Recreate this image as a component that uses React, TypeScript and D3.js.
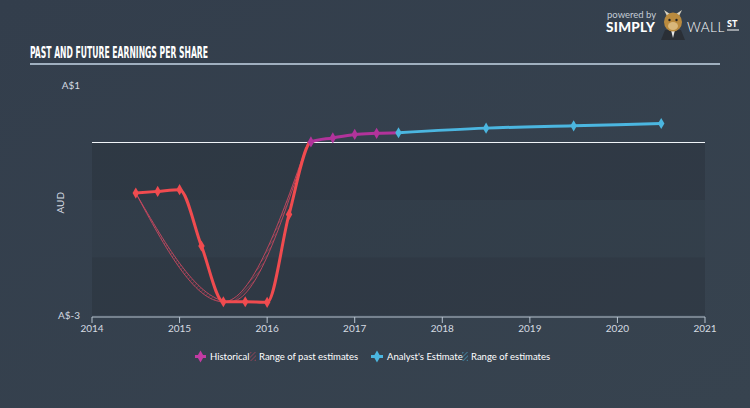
import React from "react";
import * as d3 from "d3";

const W = 750;
const H = 408;

const xTicks = [2014, 2015, 2016, 2017, 2018, 2019, 2020, 2021];
const yTickValues = [1, -3];
const yTickLabels = ["A$1", "A$-3"];

const histYears = [2014.5, 2014.75, 2015.0, 2015.25, 2015.5, 2015.75, 2016.0, 2016.25, 2016.5, 2016.75, 2017.0, 2017.25, 2017.5];
const histEps = [-0.88, -0.85, -0.82, -1.8, -2.77, -2.77, -2.78, -1.25, 0.01, 0.08, 0.14, 0.16, 0.17];

const estYears = [2017.5, 2018.5, 2019.5, 2020.5];
const estEps = [0.17, 0.25, 0.29, 0.33];

const pastRangeYears = [2014.5, 2015.5, 2016.47];
const pastRangeLow = [-0.88, -2.77, 0.02];
const pastRangeHighYears = [2014.5, 2015.58, 2016.47];
const pastRangeHigh = [-0.88, -2.77, 0.02];

const bands = [
  [0, -1, 0.11],
  [-1, -2, 0.04],
  [-2, -3, 0.11],
];

const RED = "#f04b4f";
const MAGENTA = "#b2339b";
const BLUE = "#4bb6e0";
const RANGE = "#c9485f";

export default function App() {
  const x = d3.scaleLinear().domain([2014, 2021]).range([92, 705]);
  const y = d3.scaleLinear().domain([-3, 1]).range([315, 85]);
  const y0 = y(0);
  const axisY = 317;

  const hist = histYears.map((t, i) => [t, histEps[i]] as [number, number]);
  const est = estYears.map((t, i) => [t, estEps[i]] as [number, number]);

  const line = d3
    .line<[number, number]>()
    .x((d) => x(d[0]))
    .y((d) => y(d[1]))
    .curve(d3.curveMonotoneX);

  const lowPts = pastRangeYears.map((t, i) => [t, pastRangeLow[i]] as [number, number]);
  const highPts = pastRangeHighYears.map((t, i) => [t, pastRangeHigh[i]] as [number, number]);
  const lowPath = line(lowPts) || "";
  const highPath = line(highPts) || "";
  const highRev = line(highPts.slice().reverse()) || "";
  const bandPath = lowPath + "L" + highRev.slice(1) + "Z";

  const diamond = d3.symbol().type(d3.symbolDiamond).size(36)() || "";
  const legDiamond = d3.symbol().type(d3.symbolDiamond).size(40)() || "";

  const font = "Lato, 'Open Sans', sans-serif";

  return (
    <svg
      width={W}
      height={H}
      style={{ position: "absolute", left: 0, top: 0, display: "block" }}
      xmlns="http://www.w3.org/2000/svg"
    >
      <defs>
        <linearGradient id="bg" x1="0" y1="0" x2="1" y2="1">
          <stop offset="0" stopColor="#333e4c" />
          <stop offset="1" stopColor="#37434f" />
        </linearGradient>
        <pattern id="hatchRed" width="3" height="3" patternUnits="userSpaceOnUse" patternTransform="rotate(45)">
          <line x1="0" y1="0" x2="0" y2="3" stroke={RANGE} strokeWidth="1" />
        </pattern>
        <pattern id="hatchBlue" width="3" height="3" patternUnits="userSpaceOnUse" patternTransform="rotate(45)">
          <line x1="0" y1="0" x2="0" y2="3" stroke={BLUE} strokeWidth="1" />
        </pattern>
        <clipPath id="clipNeg">
          <rect x={0} y={y0} width={W} height={H - y0} />
        </clipPath>
        <clipPath id="clipPos">
          <rect x={0} y={0} width={W} height={y0} />
        </clipPath>
      </defs>

      <rect x={0} y={0} width={W} height={H} fill="url(#bg)" />

      {/* logo */}
      <g>
        <text x={607} y={18} fill="#c4ccd6" fontSize={9.5} fontFamily={font}>powered by</text>
        <text x={606} y={32} fill="#ffffff" fontSize={13.5} fontWeight={900} fontFamily={font} letterSpacing={0.3}>SIMPLY</text>
        <g transform="translate(673,22)">
          <path d="M-9,-12 L-6,-6 L-3,-8 Z" fill="#d9d2c0" />
          <path d="M9,-12 L6,-6 L3,-8 Z" fill="#d9d2c0" />
          <path d="M-12,18 L-8,8 L8,8 L12,18 Z" fill="#2a2f36" />
          <path d="M-2,8 L0,16 L2,8 Z" fill="#e8e8e8" />
          <ellipse cx={0} cy={0} rx={9} ry={9.5} fill="#b98a3e" />
          <ellipse cx={0} cy={4} rx={5} ry={4} fill="#d9b77a" />
          <circle cx={-3.5} cy={-2} r={1.2} fill="#222" />
          <circle cx={3.5} cy={-2} r={1.2} fill="#222" />
        </g>
        <text x={687} y={32} fill="#ffffff" fontSize={13.5} fontWeight={300} fontFamily={font} letterSpacing={0.5}>WALL</text>
        <text x={727} y={27} fill="#ffffff" fontSize={9} fontWeight={900} fontFamily={font}>ST</text>
        <line x1={727} y1={30} x2={739} y2={30} stroke="#ffffff" strokeWidth={1} />
      </g>

      {/* title */}
      <text
        x={30}
        y={58}
        fill="#ffffff"
        fontSize={15}
        fontWeight={700}
        fontFamily="'Liberation Sans Narrow', 'DejaVu Sans Condensed', sans-serif"
        textLength={178}
        lengthAdjust="spacingAndGlyphs"
      >
        PAST AND FUTURE EARNINGS PER SHARE
      </text>
      <line x1={30} y1={64} x2={720} y2={64} stroke="#c5d6e6" strokeWidth={1.5} />

      {/* bands */}
      {bands.map((b, i) => (
        <rect
          key={i}
          x={x(2014)}
          y={y(b[0])}
          width={x(2021) - x(2014)}
          height={y(b[1]) - y(b[0])}
          fill="#000"
          fillOpacity={b[2]}
        />
      ))}

      {/* y labels */}
      {yTickValues.map((v, i) => (
        <text
          key={i}
          x={80}
          y={y(v) + 3.5}
          textAnchor="end"
          fill="#d5dbe2"
          fontSize={10}
          fontFamily={font}
        >
          {yTickLabels[i]}
        </text>
      ))}
      <text
        transform={`translate(64,${(y(0) + y(-3)) / 2 - 26}) rotate(-90)`}
        textAnchor="middle"
        fill="#d5dbe2"
        fontSize={10}
        fontFamily={font}
      >
        AUD
      </text>

      {/* x axis */}
      <line x1={x(2014)} y1={axisY} x2={x(2021)} y2={axisY} stroke="#b8c4d0" strokeWidth={1} />
      {xTicks.map((t) => (
        <g key={t}>
          <line x1={x(t)} y1={axisY} x2={x(t)} y2={axisY + 6} stroke="#b8c4d0" strokeWidth={1} />
          <text
            x={x(t)}
            y={axisY + 15}
            textAnchor="middle"
            fill="#d5dbe2"
            fontSize={10}
            fontFamily={font}
          >
            {t}
          </text>
        </g>
      ))}

      {/* zero line */}
      <line x1={x(2014)} y1={y0} x2={x(2021)} y2={y0} stroke="#f0f4f8" strokeWidth={1.2} />

      {/* past estimate range */}
      <path d={bandPath} fill="url(#hatchRed)" opacity={0.8} />
      <path d={lowPath} fill="none" stroke={RANGE} strokeWidth={1} opacity={0.9} />
      <path d={highPath} fill="none" stroke={RANGE} strokeWidth={1} opacity={0.9} />

      {/* historical line */}
      <path d={line(hist) || ""} fill="none" stroke={RED} strokeWidth={3} clipPath="url(#clipNeg)" />
      <path d={line(hist) || ""} fill="none" stroke={MAGENTA} strokeWidth={3} clipPath="url(#clipPos)" />

      {/* estimate line */}
      <path d={line(est) || ""} fill="none" stroke={BLUE} strokeWidth={3} />

      {/* markers */}
      {hist.slice(0, hist.length - 1).map((d, i) => (
        <path
          key={"h" + i}
          d={diamond}
          transform={`translate(${x(d[0])},${y(d[1])})`}
          fill={d[1] < 0 ? RED : MAGENTA}
        />
      ))}
      {est.map((d, i) => (
        <path key={"e" + i} d={diamond} transform={`translate(${x(d[0])},${y(d[1])})`} fill={BLUE} />
      ))}

      {/* legend */}
      <g fontFamily={font} fontSize={9.5} fill="#ffffff">
        <line x1={195} y1={356.5} x2={206} y2={356.5} stroke="#c23ba3" strokeWidth={3} />
        <path d={legDiamond} transform="translate(200.5,356.5)" fill="#c23ba3" />
        <text x={210} y={360}>Historical</text>
        <rect x={250} y={352} width={6} height={9} fill="url(#hatchRed)" />
        <text x={259} y={360}>Range of past estimates</text>

        <line x1={371} y1={356.5} x2={383} y2={356.5} stroke={BLUE} strokeWidth={3} />
        <path d={legDiamond} transform="translate(377,356.5)" fill={BLUE} />
        <text x={387} y={360}>Analyst's Estimate</text>
        <rect x={462} y={352} width={6} height={9} fill="url(#hatchBlue)" />
        <text x={471} y={360}>Range of estimates</text>
      </g>
    </svg>
  );
}
